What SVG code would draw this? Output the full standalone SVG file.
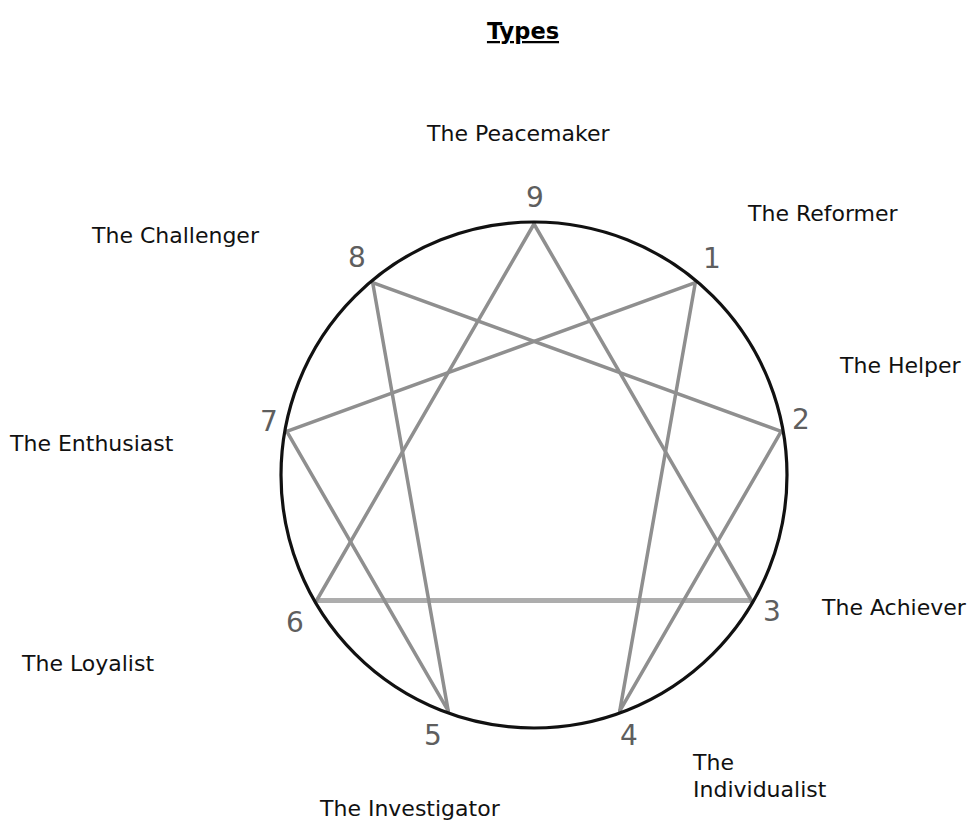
<svg xmlns="http://www.w3.org/2000/svg" width="976" height="821" viewBox="0 0 976 821">
<style>
.name{font-family:"DejaVu Sans",Verdana,sans-serif;font-size:22px;fill:#111}
.num{font-family:"DejaVu Sans",Verdana,sans-serif;font-size:28px;fill:#5e5e5e;text-anchor:middle}
.title{font-family:"DejaVu Sans",Verdana,sans-serif;font-size:22.5px;font-weight:bold;fill:#000;text-anchor:middle;text-decoration:underline}
.ln{stroke:#8f8f8f;stroke-width:3.5;fill:none;stroke-linecap:round}
.ln3{stroke:#adadad;stroke-width:5;fill:none}
</style>
<rect width="976" height="821" fill="#fff"/>
<text class="title" x="523" y="39">Types</text>
<g id="connectors">
<line class="ln3" x1="316.6" y1="600.5" x2="751.4" y2="600.5"/>
<line class="ln" x1="534" y1="224" x2="751.4" y2="600.5"/>
<line class="ln" x1="534" y1="224" x2="316.6" y2="600.5"/>
<line class="ln" x1="695.3" y1="282.7" x2="619.8" y2="710.9"/>
<line class="ln" x1="619.8" y1="710.9" x2="781.2" y2="431.4"/>
<line class="ln" x1="781.2" y1="431.4" x2="372.7" y2="282.7"/>
<line class="ln" x1="372.7" y1="282.7" x2="448.2" y2="710.9"/>
<line class="ln" x1="448.2" y1="710.9" x2="286.8" y2="431.4"/>
<line class="ln" x1="286.8" y1="431.4" x2="695.3" y2="282.7"/>
</g>
<circle id="ring" cx="534" cy="475" r="253" fill="none" stroke="#111" stroke-width="3.2"/>
<g id="node9"><text class="num" x="535" y="207">9</text><text class="name" x="427" y="141">The Peacemaker</text></g>
<g id="node1"><text class="num" x="712" y="268">1</text><text class="name" x="748" y="221">The Reformer</text></g>
<g id="node2"><text class="num" x="801" y="429">2</text><text class="name" x="840" y="373">The Helper</text></g>
<g id="node3"><text class="num" x="772" y="621">3</text><text class="name" x="822" y="615">The Achiever</text></g>
<g id="node4"><text class="num" x="629" y="745">4</text><text class="name" x="693" y="770">The</text><text class="name" x="693" y="797">Individualist</text></g>
<g id="node5"><text class="num" x="433" y="745">5</text><text class="name" x="320" y="816">The Investigator</text></g>
<g id="node6"><text class="num" x="295" y="632">6</text><text class="name" x="22" y="671">The Loyalist</text></g>
<g id="node7"><text class="num" x="269" y="431">7</text><text class="name" x="10" y="451">The Enthusiast</text></g>
<g id="node8"><text class="num" x="357" y="267">8</text><text class="name" x="92" y="243">The Challenger</text></g>
</svg>
